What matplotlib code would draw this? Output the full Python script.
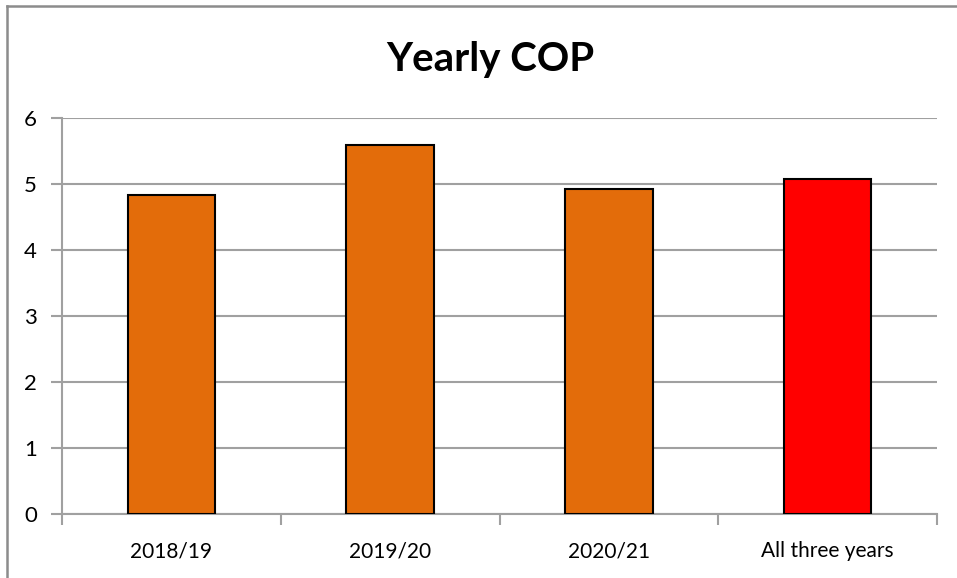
import matplotlib as mpl
mpl.use('Agg')
import matplotlib.pyplot as plt
from matplotlib.lines import Line2D
import numpy as np

# yearly coefficient of performance
seasons = ['2018/19', '2019/20', '2020/21', 'All three years']
cop = [4.83, 5.59, 4.915, 5.07]
bar_colors = ['#E36C0A', '#E36C0A', '#E36C0A', '#FF0000']
yticks = [0, 1, 2, 3, 4, 5, 6]

plt.rcParams['font.family'] = ['Lato', 'DejaVu Sans']
grey = '#a0a0a0'

fig = plt.figure(figsize=(9.57, 5.78), dpi=100)
ax = fig.add_axes([62/957, 1 - 513.7/578, (937 - 62)/957, (513.7 - 117.5)/578])

pos = np.arange(len(seasons))
ax.bar(pos, cop, width=0.4, color=bar_colors, edgecolor='black', linewidth=1.5, zorder=3)

ax.set_xlim(-0.5, len(seasons) - 0.5)
ax.set_ylim(0, 6)
ax.set_yticks(yticks)
ax.grid(axis='y', color=grey, linewidth=1.5, zorder=0)

# category boundaries get the tick marks, labels sit in the middle
ax.set_xticks(np.arange(-0.5, len(seasons)), labels=[''] * (len(seasons) + 1))
ax.set_xticks(pos, labels=seasons, minor=True)
ax.tick_params(axis='x', which='major', direction='out', length=8, width=1.5, color=grey)
ax.tick_params(axis='x', which='minor', length=0, pad=20, labelsize=15)
ax.tick_params(axis='y', direction='out', length=8, width=1.5, color=grey, pad=10, labelsize=16)

for side in ['top', 'right']:
    ax.spines[side].set_visible(False)
for side in ['left', 'bottom']:
    ax.spines[side].set_color(grey)
    ax.spines[side].set_linewidth(1.5)

fig.text(490/957, 1 - 60/578, 'Yearly COP', ha='center', va='center',
         fontsize=29, fontweight='bold')

# chart frame (left and top edges)
fig.add_artist(Line2D([6.5/957, 6.5/957], [0, 1 - 5.5/578], color='#8c8c8c', lw=1.8))
fig.add_artist(Line2D([6.5/957, 1], [1 - 5.5/578, 1 - 5.5/578], color='#8c8c8c', lw=1.8))

fig.savefig('out.png', dpi=100)
